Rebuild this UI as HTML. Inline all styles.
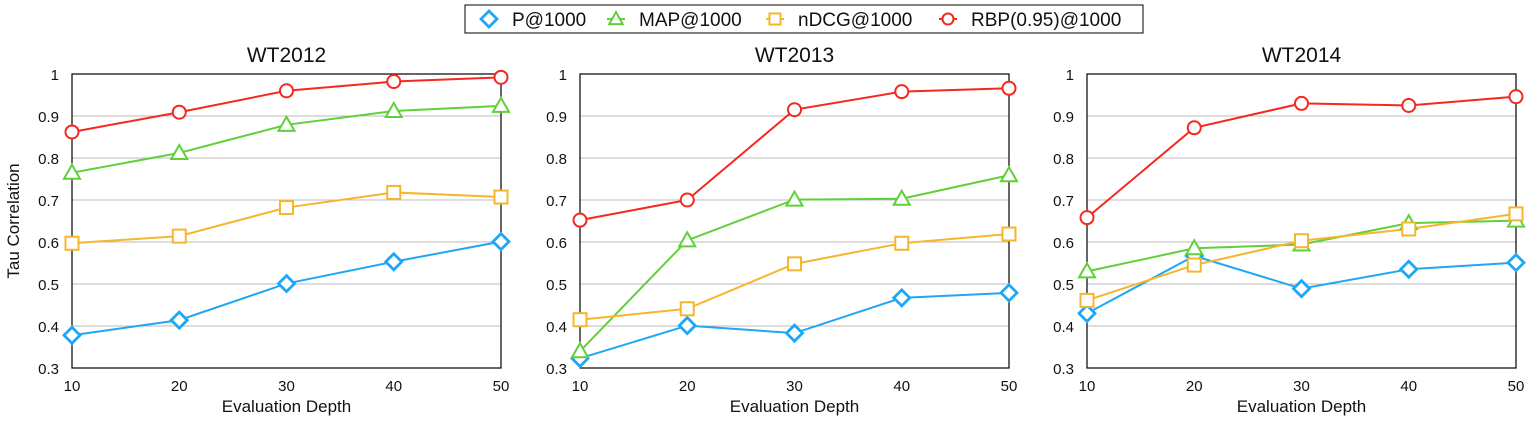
<!DOCTYPE html>
<html><head><meta charset="utf-8"><style>
body{margin:0;background:#fff;}
svg text{font-family:"Liberation Sans",sans-serif;fill:#111;}
</style></head><body>
<svg id="chart" width="1539" height="420" xmlns="http://www.w3.org/2000/svg">
<g id="legend">
<rect x="465" y="5" width="678" height="28" fill="#fff" stroke="#000" stroke-width="1"/>
</g>
</svg>
<script>
const categories=[10,20,30,40,50];
const yTicks=[0.3,0.4,0.5,0.6,0.7,0.8,0.9,1];
const yTickLabels=["0.3","0.4","0.5","0.6","0.7","0.8","0.9","1"];
const panelTitles=["WT2012","WT2013","WT2014"];
const seriesNames=["P@1000","MAP@1000","nDCG@1000","RBP(0.95)@1000"];
const p2012=[0.378,0.414,0.501,0.553,0.601];
const map2012=[0.765,0.812,0.879,0.912,0.924];
const ndcg2012=[0.597,0.614,0.682,0.718,0.707];
const rbp2012=[0.862,0.909,0.960,0.982,0.992];
const p2013=[0.323,0.401,0.383,0.467,0.479];
const map2013=[0.340,0.604,0.701,0.703,0.759];
const ndcg2013=[0.415,0.441,0.548,0.597,0.619];
const rbp2013=[0.652,0.700,0.915,0.958,0.966];
const p2014=[0.430,0.567,0.489,0.535,0.551];
const map2014=[0.530,0.585,0.594,0.645,0.651];
const ndcg2014=[0.461,0.545,0.603,0.631,0.667];
const rbp2014=[0.658,0.872,0.930,0.925,0.946];

const panelData=[[p2012,map2012,ndcg2012,rbp2012],[p2013,map2013,ndcg2013,rbp2013],[p2014,map2014,ndcg2014,rbp2014]];
const colors=["#1ea7f5","#5fd03a","#f7b52c","#f5281e"];
const shapes=["diamond","triangle","square","circle"];
const NS="http://www.w3.org/2000/svg";
const svg=document.getElementById('chart');
function mk(tag,attrs,parent){const e=document.createElementNS(NS,tag);for(const k in attrs)e.setAttribute(k,attrs[k]);(parent||svg).appendChild(e);return e;}
const panelLeft=[72,580,1087], pw=429, plotTop=74, plotBottom=368;
function yScale(v){return plotBottom-(v-0.3)/0.7*(plotBottom-plotTop);}
function marker(shape,x,y,color,parent,s){
  s=s||1;
  let e;
  if(shape==="diamond") e=mk('polygon',{points:`${x},${y-8*s} ${x+8*s},${y} ${x},${y+8*s} ${x-8*s},${y}`,fill:'#fff',stroke:color,'stroke-width':2.8},parent);
  else if(shape==="triangle") e=mk('polygon',{points:`${x},${y-8*s} ${x+8*s},${y+6*s} ${x-8*s},${y+6*s}`,fill:'#fff',stroke:color,'stroke-width':2},parent);
  else if(shape==="square") e=mk('rect',{x:x-6.5*s,y:y-6.5*s,width:13*s,height:13*s,fill:'#fff',stroke:color,'stroke-width':2},parent);
  else e=mk('circle',{cx:x,cy:y,r:6.5*s,fill:'#fff',stroke:color,'stroke-width':2},parent);
  return e;
}
panelData.forEach((series,pi)=>{
  const L=panelLeft[pi];
  const g=mk('g',{});
  
  
  const xScale=c=>L+(c-10)/40*pw;
  yTicks.forEach((t,i)=>{
    const y=yScale(t);
    if(i>0&&i<yTicks.length-1){const gl=mk('line',{x1:L,x2:L+pw,y1:y,y2:y,stroke:'#bbb','stroke-width':1},g);
      
      }
    const tx=mk('text',{x:L-13,y:y+6,'text-anchor':'end','font-size':15},g);tx.textContent=yTickLabels[i];
    
    
  });
  categories.forEach(c=>{
    const tx=mk('text',{x:xScale(c),y:391,'text-anchor':'middle','font-size':15},g);tx.textContent=c;
    
    
  });
  const box=mk('rect',{x:L,y:plotTop,width:pw,height:plotBottom-plotTop,fill:'none',stroke:'#000','stroke-width':1.2},g);
  
  
  const title=mk('text',{x:L+pw/2,y:62,'text-anchor':'middle','font-size':21},g);title.textContent=panelTitles[pi];
  
  
  const xl=mk('text',{x:L+pw/2,y:412,'text-anchor':'middle','font-size':17},g);xl.textContent="Evaluation Depth";
  
  
  series.forEach((vals,si)=>{
    const pts=vals.map((v,i)=>xScale(categories[i])+','+yScale(v)).join(' ');
    const pl=mk('polyline',{points:pts,fill:'none',stroke:colors[si],'stroke-width':2},g);
    
    
  });
  series.forEach((vals,si)=>{
    vals.forEach((v,i)=>{
      const m=marker(shapes[si],xScale(categories[i]),yScale(v),colors[si],g);
      
      
    });
  });
});
const yt=mk('text',{x:0,y:0,'text-anchor':'middle','font-size':17,transform:'translate(19,221) rotate(-90)'});
yt.textContent="Tau Correlation";


const lg=document.getElementById('legend');
const lgMarkX=[489,616,775,948], lgTextX=[512,639,798,971];
seriesNames.forEach((n,i)=>{
  const ln=mk('line',{x1:lgMarkX[i]-9,x2:lgMarkX[i]+9,y1:19,y2:19,stroke:colors[i],'stroke-width':2},lg);
  
  
  const m=marker(shapes[i],lgMarkX[i],19,colors[i],lg,i===0?1:0.85);
  
  
  const t=mk('text',{x:lgTextX[i],y:26,'font-size':19},lg);t.textContent=n;
  
  
});
</script>
</body></html>
